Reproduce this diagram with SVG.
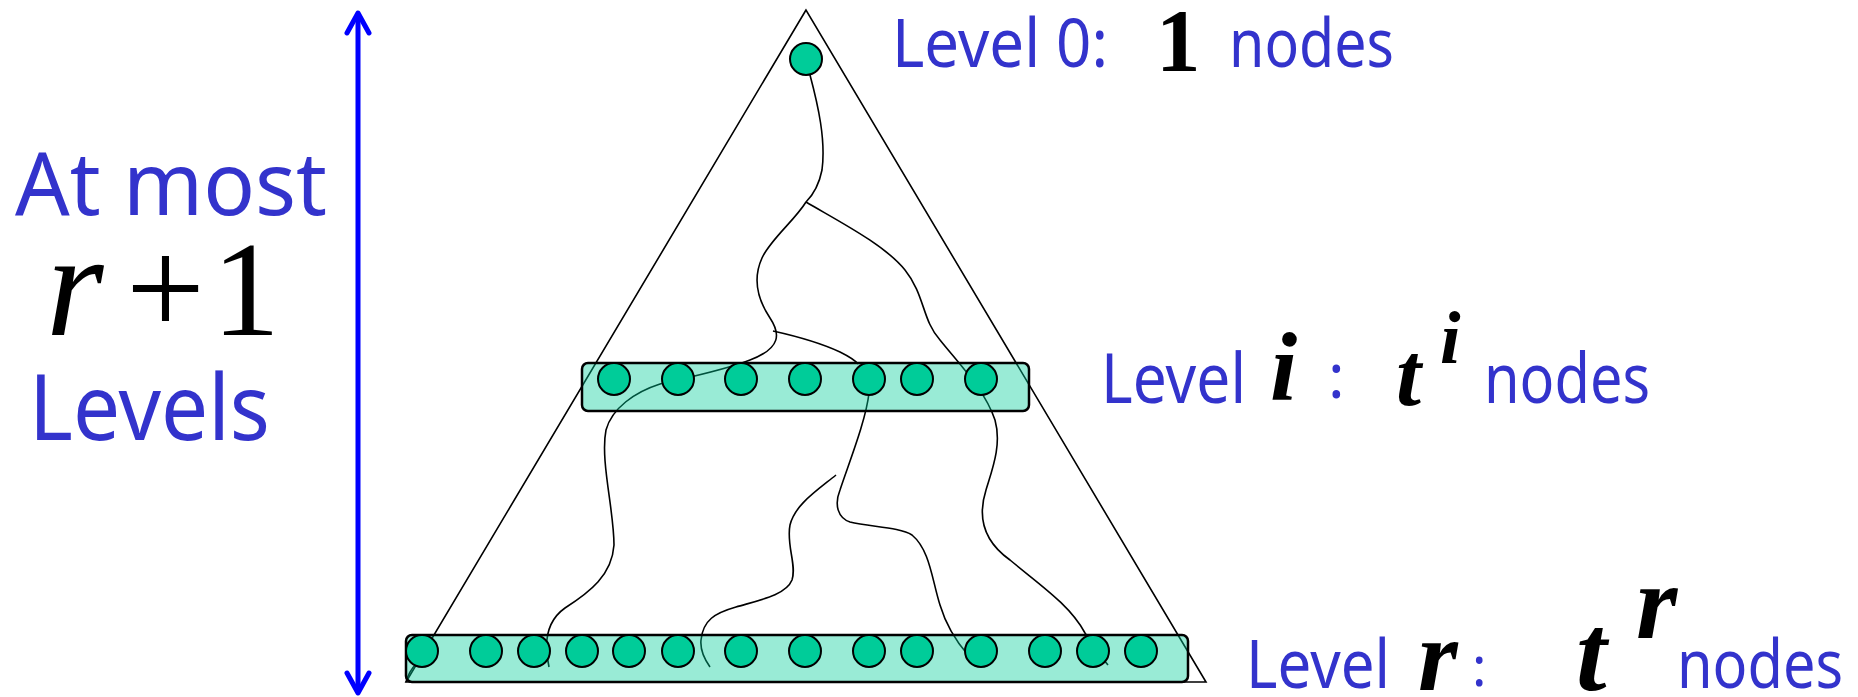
<svg xmlns="http://www.w3.org/2000/svg" width="1858" height="697" viewBox="0 0 1858 697">
<style>
.blue{font-family:"Noto Sans","DejaVu Sans",sans-serif;fill:#3333CC}
.math{font-family:"Liberation Serif","Times New Roman",serif;fill:#000}
.it{font-style:italic}
.bi{font-style:italic;font-weight:bold}
.b{font-weight:bold}
.tri{fill:none;stroke:#000;stroke-width:1.6}
.curve{fill:none;stroke:#000;stroke-width:1.6}
.box{fill:#00CC99;fill-opacity:0.4;stroke:#000;stroke-width:2.5}
.node{fill:#00CC99;stroke:#000;stroke-width:2}
</style>
<defs>
<marker id="chev" viewBox="-24 -14 28 28" markerWidth="28" markerHeight="28" refX="0" refY="0" markerUnits="userSpaceOnUse" orient="auto-start-reverse">
<path d="M-20,-11 L0,0 L-20,11" fill="none" stroke="#0000FF" stroke-width="5" stroke-linecap="round" stroke-linejoin="round"/>
</marker>
</defs>
<rect width="1858" height="697" fill="#fff"/>

<g id="triangle"><path class="tri" d="M806,10 L406,682 L1206,682 Z"/></g>

<g id="connectors">
<path class="curve" d="M810,75 C818,105 826,140 822,170 C818,190 810,198 806,202 C795,220 770,240 762,258 C752,280 758,300 770,318 C780,333 782,348 750,360 C725,370 690,377 660,384 C635,392 612,408 606,430 C600,460 614,510 614,545 C612,575 590,592 565,608 C548,620 543,640 549,667"/>
<path class="curve" d="M806,202 C840,222 885,245 905,270 C925,295 922,320 940,340 C960,365 985,390 995,420 C1002,445 992,470 986,490 C978,515 982,540 1010,560 C1040,585 1070,605 1085,633 C1095,648 1102,658 1108,665"/>
<path class="curve" d="M773,331 C800,337 825,345 840,352 C850,357 855,360 858,364"/>
<path class="curve" d="M869,393 C866,420 850,460 840,490 C834,505 838,518 850,522 C870,527 900,527 912,535 C930,550 932,580 940,605 C946,625 955,640 968,655"/>
<path class="curve" d="M836,475 C815,492 795,505 790,525 C786,545 797,565 792,580 C786,595 760,600 736,607 C715,613 703,620 701,640 C700,650 705,660 710,667"/>
<path class="curve" d="M406,682 C408,675 410,670 416,664"/>
</g>

<g id="level-i-box"><rect class="box" x="582" y="363" width="447" height="48" rx="6"/></g>
<g id="level-r-box"><rect class="box" x="406" y="635" width="782" height="47" rx="6"/></g>

<g id="root"><ellipse class="node" cx="806" cy="59" rx="16" ry="16"/></g>

<g id="level-i-nodes">
<ellipse class="node" cx="614" cy="379" rx="16" ry="16"/>
<ellipse class="node" cx="678" cy="379" rx="16" ry="16"/>
<ellipse class="node" cx="741" cy="379" rx="16" ry="16"/>
<ellipse class="node" cx="805" cy="379" rx="16" ry="16"/>
<ellipse class="node" cx="869" cy="379" rx="16" ry="16"/>
<ellipse class="node" cx="917" cy="379" rx="16" ry="16"/>
<ellipse class="node" cx="981" cy="379" rx="16" ry="16"/>
</g>

<g id="level-r-nodes">
<ellipse class="node" cx="422" cy="651" rx="16" ry="16"/>
<ellipse class="node" cx="486" cy="651" rx="16" ry="16"/>
<ellipse class="node" cx="534" cy="651" rx="16" ry="16"/>
<ellipse class="node" cx="582" cy="651" rx="16" ry="16"/>
<ellipse class="node" cx="629" cy="651" rx="16" ry="16"/>
<ellipse class="node" cx="678" cy="651" rx="16" ry="16"/>
<ellipse class="node" cx="741" cy="651" rx="16" ry="16"/>
<ellipse class="node" cx="805" cy="651" rx="16" ry="16"/>
<ellipse class="node" cx="869" cy="651" rx="16" ry="16"/>
<ellipse class="node" cx="917" cy="651" rx="16" ry="16"/>
<ellipse class="node" cx="981" cy="651" rx="16" ry="16"/>
<ellipse class="node" cx="1045" cy="651" rx="16" ry="16"/>
<ellipse class="node" cx="1093" cy="651" rx="16" ry="16"/>
<ellipse class="node" cx="1141" cy="651" rx="16" ry="16"/>
</g>

<g id="height-arrow">
<line x1="358" y1="693" x2="358" y2="13" stroke="#0000FF" stroke-width="5" marker-start="url(#chev)" marker-end="url(#chev)"/>
</g>

<g id="height-label">
<text class="blue" x="15" y="215" font-size="87" textLength="312" lengthAdjust="spacingAndGlyphs">At most</text>
<text class="math it" x="46" y="335" font-size="148">r</text>
<text class="math" x="126" y="335" font-size="140">+</text>
<text class="math" x="212" y="335" font-size="136">1</text>
<text class="blue" x="29" y="440" font-size="92" textLength="241" lengthAdjust="spacingAndGlyphs">Levels</text>
</g>

<g id="label-level0">
<text class="blue" x="892" y="67" font-size="68" textLength="216" lengthAdjust="spacingAndGlyphs">Level 0:</text>
<text class="math b" x="1156" y="70" font-size="89">1</text>
<text class="blue" x="1229" y="67" font-size="68" textLength="165" lengthAdjust="spacingAndGlyphs">nodes</text>
</g>

<g id="label-leveli">
<text class="blue" x="1101" y="403" font-size="70" textLength="145" lengthAdjust="spacingAndGlyphs">Level</text>
<text class="math bi" x="1270" y="400" font-size="98">i</text>
<text class="blue" x="1328" y="398" font-size="62">:</text>
<text class="math bi" x="1396" y="405" font-size="90">t</text>
<text class="math bi" x="1440" y="363" font-size="74">i</text>
<text class="blue" x="1484" y="403" font-size="70" textLength="166" lengthAdjust="spacingAndGlyphs">nodes</text>
</g>

<g id="label-levelr">
<text class="blue" x="1246" y="688" font-size="68" textLength="144" lengthAdjust="spacingAndGlyphs">Level</text>
<text class="math bi" x="1418" y="690" font-size="102">r</text>
<text class="blue" x="1472" y="686" font-size="54">:</text>
<text class="math bi" x="1576" y="690" font-size="110">t</text>
<text class="math bi" x="1636" y="638" font-size="106">r</text>
<text class="blue" x="1677" y="688" font-size="68" textLength="166" lengthAdjust="spacingAndGlyphs">nodes</text>
</g>
</svg>
